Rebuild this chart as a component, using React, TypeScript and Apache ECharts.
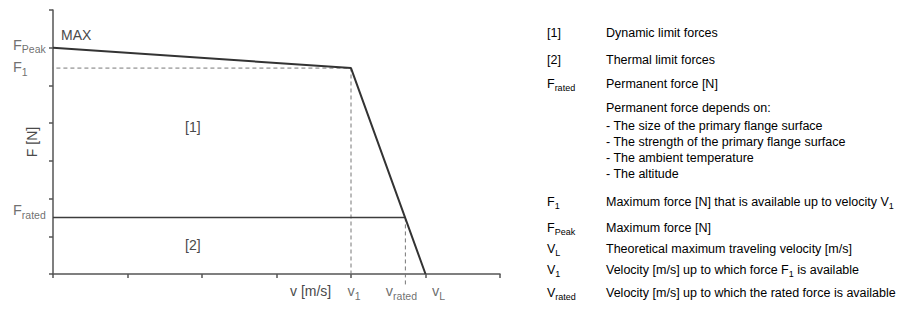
import React, { useEffect, useRef } from "react";
import * as echarts from "echarts";

// ---- data ----
const limitV = [0, 4, 5];
const limitF = [6, 5.46, 0];
const ratedV = [0, 4.73];
const ratedF = [1.5, 1.5];
const xAxisMax = 6;
const yAxisMax = 7;
const yMarkSubs = ["Peak", "1", "rated"];
const yMarkValues = [6, 5.46, 1.5];
const xMarkSubs = ["1", "rated", "L"];
const xMarkValues = [4, 4.73, 5];
const legendSymbols: [string, string][] = [
  ["[1]", ""],
  ["[2]", ""],
  ["F", "rated"],
  ["", ""],
  ["F", "1"],
  ["F", "Peak"],
  ["V", "L"],
  ["V", "1"],
  ["V", "rated"],
];
const legendTexts: string[][] = [
  ["Dynamic limit forces"],
  ["Thermal limit forces"],
  ["Permanent force [N]"],
  [
    "Permanent force depends on:",
    "- The size of the primary flange surface",
    "- The strength of the primary flange surface",
    "- The ambient temperature",
    "- The altitude",
  ],
  ["Maximum force [N] that is available up to velocity V|1"],
  ["Maximum force [N]"],
  ["Theoretical maximum traveling velocity [m/s]"],
  ["Velocity [m/s] up to which force F|1 is available"],
  ["Velocity [m/s] up to which the rated force is available"],
];

// ---- layout / style ----
const FONT = '"Liberation Sans", Arial, sans-serif';
const INK = "#3c3c3c";
const TXT = "#4a4a4a";
const legendRowY = [33, 60, 84, 108, 202, 228, 249, 270, 293];
const blockLineY = [108, 126, 142, 158, 174];
const yLabelOffsets = [[0, -3], [0, -1], [0, -7]];
const xLabelOffsets = [[3, 0], [-4, 0], [13, 0]];

const chartRich = {
  m: { fontSize: 14.5, fontFamily: FONT, color: TXT },
  s: { fontSize: 10.5, fontFamily: FONT, color: TXT, padding: [9, 0, 0, 0] },
};
const legRich = {
  t: { fontSize: 12.5, fontFamily: FONT, color: TXT },
  s: { fontSize: 9, fontFamily: FONT, color: TXT, padding: [8, 0, 0, 0] },
};

function legendRich(str: string): string {
  const parts = str.split("|");
  if (parts.length === 1) return `{t|${str}}`;
  const sub = parts[1].charAt(0);
  const rest = parts[1].slice(1);
  return `{t|${parts[0]}}{s|${sub}}` + (rest ? `{t|${rest}}` : "");
}

export default function App() {
  const ref = useRef<HTMLDivElement>(null);
  useEffect(() => {
    if (!ref.current) return;
    const chart = echarts.init(ref.current, null, { renderer: "svg" });

    const graphics: any[] = [];
    legendSymbols.forEach((sym, i) => {
      if (sym[0]) {
        graphics.push({
          type: "text",
          x: 547,
          y: legendRowY[i],
          style: {
            text: sym[1] ? `{t|${sym[0]}}{s|${sym[1]}}` : `{t|${sym[0]}}`,
            rich: legRich,
            verticalAlign: "middle",
            align: "left",
          },
        });
      }
      const lines = legendTexts[i];
      lines.forEach((ln, j) => {
        graphics.push({
          type: "text",
          x: 606,
          y: lines.length > 1 ? blockLineY[j] : legendRowY[i],
          style: {
            text: legendRich(ln),
            rich: legRich,
            verticalAlign: "middle",
            align: "left",
          },
        });
      });
    });
    const plain = (text: string, x: number, y: number, size: number) => ({
      type: "text",
      x,
      y,
      style: {
        text,
        fontSize: size,
        fontFamily: FONT,
        fill: TXT,
        align: "left",
        verticalAlign: "middle",
      },
    });
    graphics.push(plain("MAX", 61, 35, 14));
    graphics.push(plain("[1]", 185, 127, 14));
    graphics.push(plain("[2]", 185, 245, 14));
    graphics.push(plain("v [m/s]", 290, 291, 14));

    chart.setOption({
      animation: false,
      backgroundColor: "#ffffff",
      grid: { left: 53, top: 10, right: 399, bottom: 35 },
      xAxis: {
        type: "value",
        min: 0,
        max: xAxisMax,
        interval: 1,
        axisLine: { show: true, lineStyle: { color: "#555", width: 1.5 } },
        axisTick: { show: true, inside: false, length: 4, lineStyle: { color: "#555", width: 1.5 } },
        axisLabel: { show: false },
        splitLine: { show: false },
      },
      yAxis: {
        type: "value",
        min: 0,
        max: yAxisMax,
        interval: 1,
        name: "F [N]",
        nameLocation: "middle",
        nameGap: 14,
        nameRotate: 90,
        nameTextStyle: { fontSize: 14, fontFamily: FONT, color: TXT },
        axisLine: { show: true, lineStyle: { color: "#555", width: 1.5 } },
        axisTick: { show: true, inside: false, length: 4, lineStyle: { color: "#555", width: 1.5 } },
        axisLabel: { show: false },
        splitLine: { show: false },
      },
      series: [
        {
          type: "line",
          clip: false,
          symbol: "none",
          silent: true,
          data: [
            [-0.33, yMarkValues[1]],
            [xMarkValues[0], yMarkValues[1]],
            [xMarkValues[0], -0.1],
          ],
          lineStyle: { color: "#777", width: 1, type: [4, 3] },
        },
        {
          type: "line",
          clip: false,
          symbol: "none",
          silent: true,
          data: [
            [xMarkValues[1], ratedF[0]],
            [xMarkValues[1], -0.3],
          ],
          lineStyle: { color: "#777", width: 1, type: [4, 3] },
        },
        {
          type: "line",
          clip: false,
          symbol: "none",
          silent: true,
          data: ratedV.map((v, i) => [v, ratedF[i]]),
          lineStyle: { color: INK, width: 1.6 },
        },
        {
          type: "line",
          clip: false,
          symbol: "none",
          silent: true,
          data: limitV.map((v, i) => [v, limitF[i]]),
          lineStyle: { color: "#333", width: 2 },
        },
        {
          type: "scatter",
          clip: false,
          symbolSize: 0,
          silent: true,
          data: yMarkValues.map((v, i) => ({
            value: [0, v],
            label: { offset: yLabelOffsets[i] },
          })),
          label: {
            show: true,
            position: "left",
            distance: 40,
            align: "left",
            formatter: (p: any) => `{m|F}{s|${yMarkSubs[p.dataIndex]}}`,
            rich: chartRich,
          },
        },
        {
          type: "scatter",
          clip: false,
          symbolSize: 0,
          silent: true,
          data: xMarkValues.map((v, i) => ({
            value: [v, 0],
            label: { offset: xLabelOffsets[i] },
          })),
          label: {
            show: true,
            position: "bottom",
            distance: 7,
            formatter: (p: any) => `{m|v}{s|${xMarkSubs[p.dataIndex]}}`,
            rich: chartRich,
          },
        },
      ],
      graphic: graphics,
    });
    return () => chart.dispose();
  }, []);
  return (
    <div
      ref={ref}
      style={{ position: "fixed", left: 0, top: 0, width: 899, height: 309, background: "#fff" }}
    />
  );
}
